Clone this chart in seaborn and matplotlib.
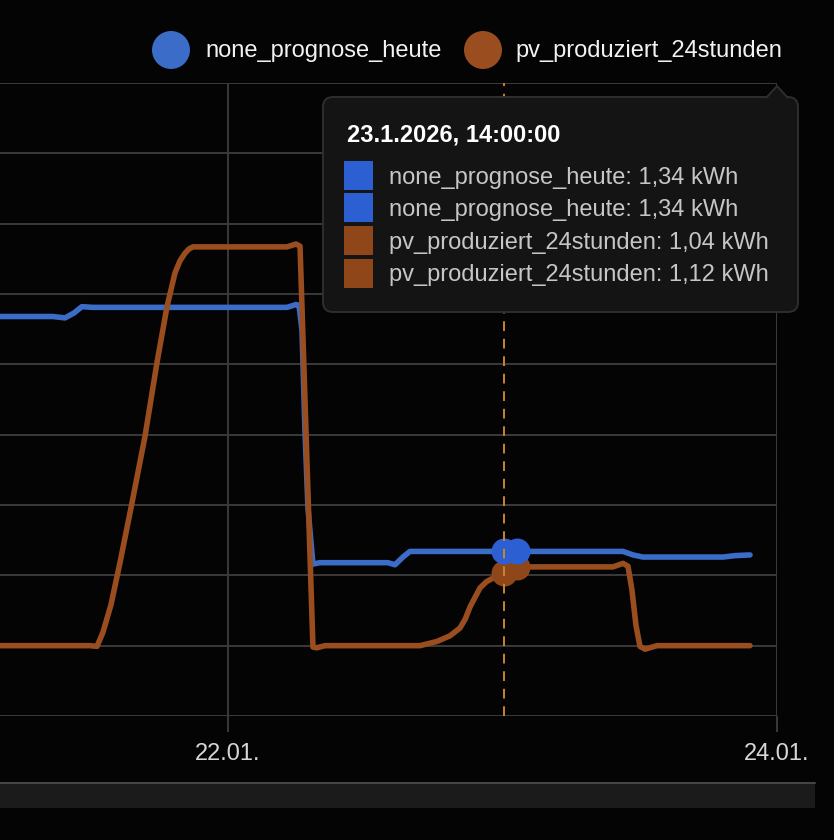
"""Dark energy dashboard chart: forecast vs. produced PV energy."""

import matplotlib.pyplot as plt
import seaborn as sns
from matplotlib.lines import Line2D
from matplotlib.patches import Circle, FancyBboxPatch, Polygon, Rectangle

# hours relative to 22.01. 00:00, values in kWh
FORECAST_HOURS = [-19.93, -15.30, -14.25, -13.46, -12.77, -11.80, 5.16, 5.95, 6.21,
                  6.47, 6.73, 6.99, 7.43, 8.04, 13.99, 14.60, 15.30, 15.91, 24.13,
                  25.27, 34.54, 35.41, 36.28, 43.28, 44.33, 45.64]
FORECAST_KWH = [4.68, 4.68, 4.66, 4.73, 4.82, 4.81, 4.81, 4.85, 4.84,
                4.49, 3.07, 1.97, 1.16, 1.18, 1.18, 1.15, 1.26, 1.34, 1.34,
                1.34, 1.34, 1.29, 1.26, 1.26, 1.28, 1.29]

PRODUCED_HOURS = [-19.93, -12.07, -11.45, -10.93, -10.23, -9.44, -8.39, -7.26, -6.21,
                  -5.33, -4.63, -4.20, -3.76, -3.41, -3.06, 5.16, 5.95, 6.30, 7.43,
                  7.78, 8.48, 16.79, 18.27, 19.41, 20.28, 20.75, 21.16, 22.03, 22.60,
                  23.17, 24.13, 25.27, 33.66, 34.54, 34.97, 35.32, 35.67, 36.02,
                  36.46, 37.51, 45.64]
PRODUCED_KWH = [0.0, 0.0, -0.01, 0.19, 0.58, 1.18, 2.03, 2.97, 4.02,
                4.82, 5.30, 5.47, 5.58, 5.64, 5.67, 5.67, 5.71, 5.68, -0.02,
                -0.03, 0.0, 0.0, 0.06, 0.14, 0.25, 0.38, 0.55, 0.82, 0.91,
                0.96, 1.04, 1.12, 1.12, 1.17, 1.13, 0.79, 0.29, -0.01,
                -0.05, 0.0, 0.0]

HOVER_HOURS = [24.13, 25.27]
HOVER_FORECAST = [1.34, 1.34]
HOVER_PRODUCED = [1.04, 1.12]

TICK_HOURS = [0, 48]
TICK_LABELS = ["22.01.", "24.01."]
SERIES = ["none_prognose_heute", "pv_produziert_24stunden"]
TOOLTIP_TITLE = "23.1.2026, 14:00:00"
TOOLTIP_ROWS = [
    ("none_prognose_heute: 1,34 kWh", 0),
    ("none_prognose_heute: 1,34 kWh", 0),
    ("pv_produziert_24stunden: 1,04 kWh", 1),
    ("pv_produziert_24stunden: 1,12 kWh", 1),
]

BG = "#040404"
GRID = "#3a3a3a"
BLUE = "#3a6cc8"
ORANGE = "#9a4d1f"
BLUE_DOT = "#2c5fd2"
ORANGE_DOT = "#8f4618"

sns.set_theme(style="dark")
plt.rcParams["font.family"] = ["Liberation Sans", "DejaVu Sans"]

fig = plt.figure(figsize=(8.34, 8.40), dpi=100, facecolor=BG)
ax = fig.add_axes([0.0, 124 / 840, 777 / 834, 633 / 840], facecolor=BG)

sns.lineplot(x=FORECAST_HOURS, y=FORECAST_KWH, ax=ax, color=BLUE, linewidth=4.0,
             estimator=None, solid_capstyle="round", solid_joinstyle="round", zorder=3)
sns.lineplot(x=PRODUCED_HOURS, y=PRODUCED_KWH, ax=ax, color=ORANGE, linewidth=4.0,
             estimator=None, solid_capstyle="round", solid_joinstyle="round", zorder=4)
sns.scatterplot(x=HOVER_HOURS, y=HOVER_PRODUCED, ax=ax, color=ORANGE_DOT, s=350,
                linewidth=0, zorder=5)
sns.scatterplot(x=HOVER_HOURS, y=HOVER_FORECAST, ax=ax, color=BLUE_DOT, s=350,
                linewidth=0, zorder=6)

ax.set_xlim(-19.93, 48)
ax.set_ylim(-1, 8)
ax.set_xticks(TICK_HOURS)
ax.set_xticklabels(TICK_LABELS)
ax.set_yticks(range(-1, 9))
ax.set_yticklabels([])
ax.tick_params(axis="x", bottom=True, length=11.5, width=1.4, color=GRID,
               labelcolor="#d6d6d6", labelsize=17, pad=8)
ax.tick_params(axis="y", length=0)
ax.grid(True, color=GRID, linewidth=1.4)
for spine in ax.spines.values():
    spine.set_visible(False)
ax.set_xlabel("")
ax.set_ylabel("")

# hover crosshair
ax.axvline(HOVER_HOURS[0], color="#c8862e", linewidth=1.4, linestyle=(0, (5, 4)),
           zorder=20)

inch = fig.dpi_scale_trans
H = 8.40

# legend on top
for i, (cx, tx) in enumerate([(1.71, 2.05), (4.83, 5.15)]):
    fig.add_artist(Circle((cx, H - 0.50), 0.19, transform=inch,
                          facecolor=[BLUE, ORANGE][i], edgecolor="none"))
    fig.text(tx, H - 0.51, SERIES[i], transform=inch, color="#f2f2f2",
             fontsize=17, va="center", ha="left")

# tooltip
fig.add_artist(FancyBboxPatch((3.23, H - 3.12), 4.75, 2.15, transform=inch,
                              boxstyle="round,pad=0,rounding_size=0.1",
                              facecolor="#141414", edgecolor="#2e2e2e",
                              linewidth=1.4, zorder=10))
fig.add_artist(Polygon([(7.66, H - 0.98), (7.77, H - 0.86), (7.88, H - 0.98)],
                       closed=False, transform=inch, facecolor="#141414",
                       edgecolor="#2e2e2e", linewidth=1.4, zorder=11))
fig.text(3.47, H - 1.35, TOOLTIP_TITLE, transform=inch, color="white",
         fontsize=17, fontweight="bold", va="center", ha="left", zorder=12)
for row, (label, idx) in enumerate(TOOLTIP_ROWS):
    yc = H - [1.76, 2.08, 2.41, 2.73][row]
    fig.add_artist(Rectangle((3.44, yc - 0.145), 0.29, 0.29, transform=inch,
                             facecolor=[BLUE_DOT, ORANGE_DOT][idx],
                             edgecolor="none", zorder=12))
    fig.text(3.89, yc - 0.02, label, transform=inch, color="#c6c6c6", fontsize=17,
             va="center", ha="left", zorder=12)

# scrollbar strip at the bottom
fig.add_artist(Rectangle((0, 0.32), 8.15, 0.25, transform=inch,
                         facecolor="#1b1b1b", edgecolor="none"))
fig.add_artist(Line2D([0, 8.15], [0.57, 0.57], transform=inch, color="#474747",
                      linewidth=1.4))

fig.savefig("out.png", dpi=100, facecolor=BG)
